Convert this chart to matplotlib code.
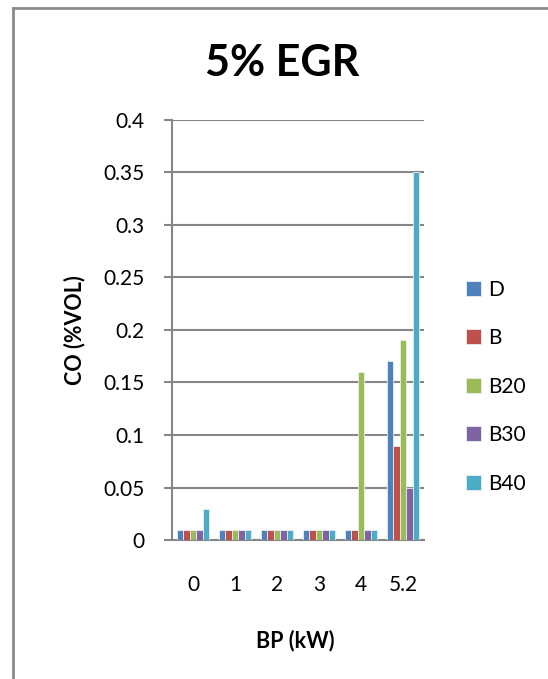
import numpy as np
import matplotlib.pyplot as plt
from matplotlib.lines import Line2D

# data
bp_labels = ['0', '1', '2', '3', '4', '5.2']
series_names = ['D', 'B', 'B20', 'B30', 'B40']
co_d = [0.01, 0.01, 0.01, 0.01, 0.01, 0.17]
co_b = [0.01, 0.01, 0.01, 0.01, 0.01, 0.09]
co_b20 = [0.01, 0.01, 0.01, 0.01, 0.16, 0.19]
co_b30 = [0.01, 0.01, 0.01, 0.01, 0.01, 0.05]
co_b40 = [0.03, 0.01, 0.01, 0.01, 0.01, 0.35]
colors = ['#4F81BD', '#C0504D', '#9BBB59', '#8064A2', '#4BACC6']

plt.rcParams['font.family'] = ['Lato', 'DejaVu Sans']

fig = plt.figure(figsize=(5.48, 6.79), dpi=100)
ax = fig.add_axes([0.3139, 0.2047, 0.4599, 0.6186])

x = np.arange(len(bp_labels))
w = 0.153
for i, (vals, name) in enumerate(zip([co_d, co_b, co_b20, co_b30, co_b40], series_names)):
    ax.bar(x + (i - 2) * w, vals, width=w, color=colors[i], edgecolor='#e8eef6',
           linewidth=0.6, label=name, zorder=3)

ax.set_xlim(-0.5, len(bp_labels) - 0.5)
ax.set_ylim(0, 0.4)
ax.set_yticks(np.arange(0, 0.401, 0.05))
ax.set_yticklabels(['0', '0.05', '0.1', '0.15', '0.2', '0.25', '0.3', '0.35', '0.4'])
ax.set_xticks(x)
ax.set_xticklabels(bp_labels)
ax.grid(axis='y', color='#868686', linewidth=1.5, zorder=0)
for s in ['top', 'right']:
    ax.spines[s].set_visible(False)
for s in ['left', 'bottom']:
    ax.spines[s].set_color('#868686')
    ax.spines[s].set_linewidth(1.5)
ax.tick_params(axis='y', length=5.8, width=1.5, color='#868686', labelsize=15, pad=14)
ax.tick_params(axis='x', length=0, labelsize=15, pad=25)

ax.set_ylabel('CO (%VOL)', fontsize=15.5, fontweight='bold')
ax.yaxis.set_label_coords(-0.345, 0.5)
ax.set_xlabel('BP (kW)', fontsize=15.5, fontweight='bold', va='center')
ax.xaxis.set_label_coords(0.49, -0.24)
fig.text(0.515, 0.907, '5% EGR', fontsize=31, fontweight='bold', ha='center', va='center')

leg = ax.legend(loc='upper left', bbox_to_anchor=(1.125, 0.645), frameon=False,
                fontsize=15, handlelength=0.72, handleheight=0.72, handletextpad=0.34,
                labelspacing=1.37, borderpad=0)

# outer chart frame (cut at right and bottom)
fig.add_artist(Line2D([13 / 548, 13 / 548], [0, 1 - 8 / 679], transform=fig.transFigure,
                      color='#8c8c8c', linewidth=2))
fig.add_artist(Line2D([13 / 548, 1], [1 - 8 / 679, 1 - 8 / 679], transform=fig.transFigure,
                      color='#8c8c8c', linewidth=2))

fig.savefig('out.png', dpi=100, facecolor='white')
